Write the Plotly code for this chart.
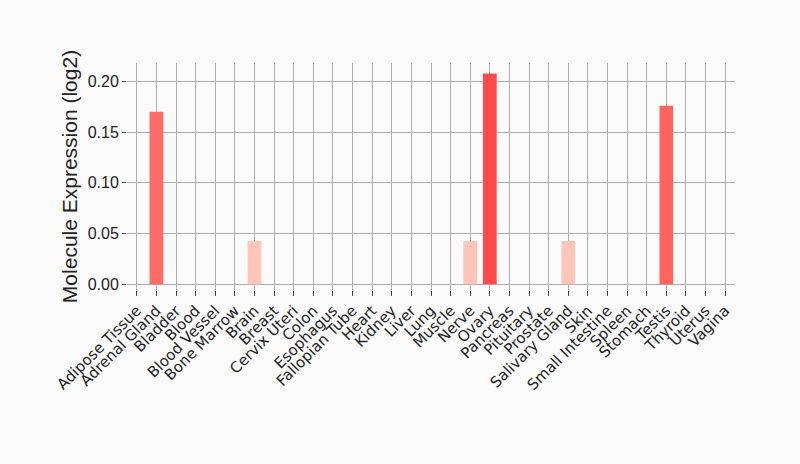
import plotly.graph_objects as go

tissues = ["Adipose Tissue", "Adrenal Gland", "Bladder", "Blood", "Blood Vessel",
           "Bone Marrow", "Brain", "Breast", "Cervix Uteri", "Colon", "Esophagus",
           "Fallopian Tube", "Heart", "Kidney", "Liver", "Lung", "Muscle", "Nerve",
           "Ovary", "Pancreas", "Pituitary", "Prostate", "Salivary Gland", "Skin",
           "Small Intestine", "Spleen", "Stomach", "Testis", "Thyroid", "Uterus", "Vagina"]
values = [0, 0.170, 0, 0, 0, 0, 0.0427, 0, 0, 0, 0, 0, 0, 0, 0, 0, 0, 0.0427,
          0.2076, 0, 0, 0, 0.0427, 0, 0, 0, 0, 0.176, 0, 0, 0]
colors = ["#ffffff", "#ff6b66", "#ffffff", "#ffffff", "#ffffff", "#ffffff", "#ffc5b8",
          "#ffffff", "#ffffff", "#ffffff", "#ffffff", "#ffffff", "#ffffff", "#ffffff",
          "#ffffff", "#ffffff", "#ffffff", "#ffc5b8", "#ff4b4b", "#ffffff", "#ffffff",
          "#ffffff", "#ffc5b8", "#ffffff", "#ffffff", "#ffffff", "#ffffff", "#ff655c",
          "#ffffff", "#ffffff", "#ffffff"]

fig = go.Figure(go.Bar(x=tissues, y=values, marker=dict(color=colors, line=dict(width=0))))

fig.update_layout(
    width=800, height=464,
    margin=dict(l=127, r=65, t=63, b=174),
    paper_bgcolor="#fafafa", plot_bgcolor="#fafafa",
    bargap=0.30,
    font=dict(family="Liberation Sans, Arial", size=16, color="#222"),
    showlegend=False,
)
fig.update_xaxes(
    tickangle=-45, showgrid=True, gridcolor="#adadad", gridwidth=1,
    ticks="outside", ticklen=5, tickcolor="#444",
    tickfont=dict(family="DejaVu Sans", size=15, color="#222"),
    zeroline=False, showline=False,
)
fig.update_yaxes(
    range=[-0.0056, 0.218], tickvals=[0, 0.05, 0.10, 0.15, 0.20],
    tickformat=".2f", showgrid=True, gridcolor="#adadad", gridwidth=1,
    ticks="outside", ticklen=4, tickcolor="#444",
    zeroline=False, showline=False,
    title=dict(text="Molecule Expression (log2)", standoff=4,
               font=dict(size=21, family="Liberation Sans, Arial")),
)

fig.write_html("out.html", config={"displayModeBar": False},
               post_script="document.body.style.margin='0';document.body.style.background='#fafafa';")
